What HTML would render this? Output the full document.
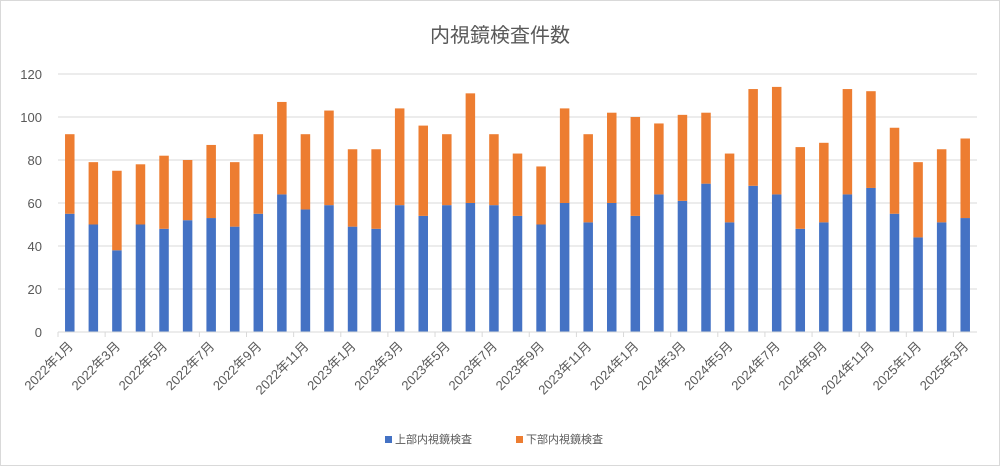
<!DOCTYPE html>
<html><head><meta charset="utf-8"><style>
body{margin:0;background:#fff}
svg{display:block;font-family:"Liberation Sans","Noto Sans CJK JP",sans-serif}
</style></head><body>
<svg id="chart" width="1000" height="466" viewBox="0 0 1000 466">
<rect x="0.5" y="0.5" width="999" height="465" fill="#fff" stroke="#d9d9d9"/>
<text x="500" y="42" text-anchor="middle" font-size="20" fill="#595959">内視鏡検査件数</text>
<g id="grid"></g><g id="bars"></g><g id="axes"></g>
<g>
<rect x="385" y="436" width="7" height="7" fill="#4472c4"/>
<text x="395" y="443" font-size="11" fill="#595959">上部内視鏡検査</text>
<rect x="516" y="436" width="7" height="7" fill="#ed7d31"/>
<text x="526" y="443" font-size="11" fill="#595959">下部内視鏡検査</text>
</g>
</svg>
<script>
const upper=[55,50,38,50,48,52,53,49,55,64,57,59,49,48,59,54,59,60,59,54,50,60,51,60,54,64,61,69,51,68,64,48,51,64,67,55,44,51,53];
const totals=[92,79,75,78,82,80,87,79,92,107,92,103,85,85,104,96,92,111,92,83,77,104,92,102,100,97,101,102,83,113,114,86,88,113,112,95,79,85,90];
const yTicks=[0,20,40,60,80,100,120];
const startYear=2022,startMonth=1;
const NS="http://www.w3.org/2000/svg";
const L=58,R=977,T=74,B=332,ymax=120;
const n=upper.length,step=(R-L)/n,bw=9.5;
const y=v=>B-(v/ymax)*(B-T);
const x=i=>L+step*(i+0.5);
function mk(tag,attrs,parent){const e=document.createElementNS(NS,tag);for(const k in attrs)e.setAttribute(k,attrs[k]);parent.appendChild(e);return e;}
const grid=document.getElementById('grid'),bars=document.getElementById('bars'),axes=document.getElementById('axes');
yTicks.forEach(t=>{
 if(t>0){const g=mk('line',{x1:L,x2:R,y1:y(t),y2:y(t),stroke:'#d9d9d9','stroke-width':1},grid);
 
 }
 const tx=mk('text',{x:42,y:y(t)+5,'text-anchor':'end','font-size':13,fill:'#595959'},axes);
 tx.textContent=t;
 
 
});
const ax=mk('line',{x1:L,x2:R,y1:B,y2:B,stroke:'#d9d9d9','stroke-width':1},axes);


for(let i=0;i<n;i++){
 const lower=totals[i]-upper[i];
 const b1=mk('rect',{x:x(i)-bw/2,y:y(upper[i]),width:bw,height:B-y(upper[i]),fill:'#4472c4'},bars);
 
 
 const b2=mk('rect',{x:x(i)-bw/2,y:y(totals[i]),width:bw,height:y(upper[i])-y(totals[i]),fill:'#ed7d31'},bars);
 
 
 if(i%2===0){
  const tk=mk('line',{x1:L+step*i,x2:L+step*i,y1:B,y2:B+5,stroke:'#d9d9d9'},axes);
  
  
  const m=startMonth-1+i,yr=startYear+Math.floor(m/12),mo=m%12+1;
  const lx=x(i)+4,ly=347;
  const tx=mk('text',{x:lx,y:ly,'text-anchor':'end','font-size':13,fill:'#595959',transform:`rotate(-45 ${lx} ${ly})`},axes);
  tx.textContent=yr+'年'+mo+'月';
  
  
 }
}
</script>
</body></html>
